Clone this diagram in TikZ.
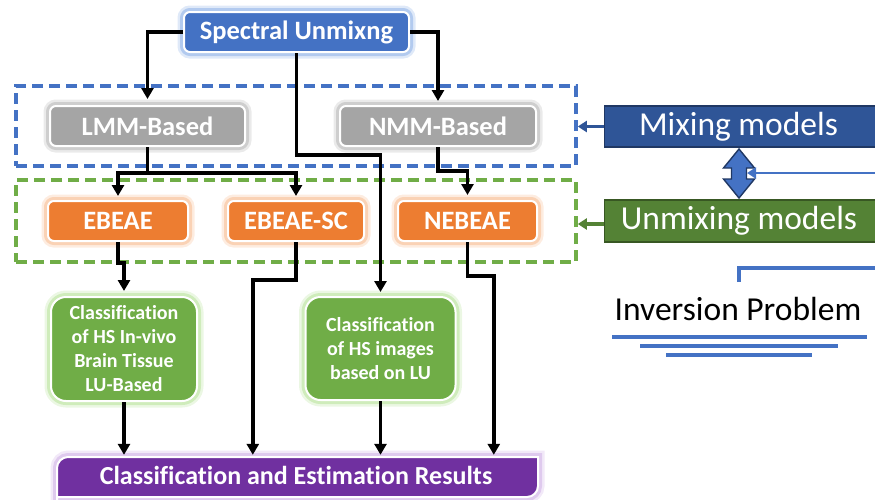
\documentclass[tikz,border=0pt]{standalone}
\usepackage{fontspec}
\setmainfont{Carlito}[Ligatures=NoCommon]
\usetikzlibrary{arrows.meta,calc}
\definecolor{specblue}{HTML}{4472C4}
\definecolor{specglow}{HTML}{A3C0EC}
\definecolor{greyfill}{HTML}{A5A5A5}
\definecolor{greyglow}{HTML}{C4C4C4}
\definecolor{orangefill}{HTML}{ED7D31}
\definecolor{orangeglow}{HTML}{F9C9A6}
\definecolor{greenfill}{HTML}{70AD47}
\definecolor{greenglow}{HTML}{C6E8AE}
\definecolor{purplefill}{HTML}{7030A0}
\definecolor{purpleglow}{HTML}{D9BFEB}
\definecolor{darkblue}{HTML}{2F5597}
\definecolor{darkblueedge}{HTML}{203864}
\definecolor{darkgreen}{HTML}{548235}
\definecolor{darkgreenedge}{HTML}{385723}
\begin{document}
\begin{tikzpicture}[x=1pt,y=-1pt,
  tag/.style={rounded corners=6pt, draw=white, line width=2pt, text=white,
    font=\bfseries\fontsize{26.5}{30}\selectfont, inner sep=0pt, minimum height=40pt},
  glow/.style={preaction={draw=#1, line width=13pt, draw opacity=0.35},
               preaction={draw=#1, line width=8pt, draw opacity=0.75}},
  specbox/.style={tag, fill=specblue, glow=specglow},
  greybox/.style={tag, fill=greyfill, glow=greyglow},
  orangebox/.style={tag, fill=orangefill, glow=orangeglow},
  taskbox/.style={tag, rounded corners=15pt, fill=greenfill, glow=greenglow,
    font=\bfseries\fontsize{20}{24}\selectfont, align=center},
  frame/.style={draw=#1, line width=3.6pt, dash pattern=on 11pt off 6pt, inner sep=0pt},
  modelbox/.style={draw=#1, line width=1.4pt, inner sep=0pt, anchor=west, minimum width=290pt},
  bigtext/.style={font=\fontsize{33.5}{38}\selectfont, inner sep=0pt},
  link/.style={draw=black, line width=3.6pt},
  flow/.style={link, -{Triangle[length=11pt,width=12pt]}},
  sidearrow/.style={draw=#1, line width=3.2pt, -{Triangle[length=9pt,width=11pt]}},
  thinblue/.style={draw=specblue, line width=3.2pt}
]
\useasboundingbox (0,0) rectangle (875,499);

% dashed groups
\node[frame=specblue, minimum width=560pt, minimum height=80pt] (bframe) at (296,126) {};
\node[frame=greenfill, minimum width=560pt, minimum height=82pt] (gframe) at (296,221) {};

% main boxes
\node[specbox, minimum width=225pt] (spec) at (296.5,32) {Spectral Unmixng};
\node[greybox, minimum width=195pt] (lmm) at (147.5,126) {LMM-Based};
\node[greybox, minimum width=196pt] (nmm) at (438,126) {NMM-Based};
\node[orangebox, minimum width=140pt] (ebeae) at (118,221) {EBEAE};
\node[orangebox, minimum width=136pt] (ebsc) at (296,221) {EBEAE-SC};
\node[orangebox, minimum width=139pt] (nebeae) at (467.5,221) {NEBEAE};
\node[taskbox, minimum width=146pt, minimum height=104pt] (cls1) at (124,349)
  {Classification\\of HS In-vivo\\Brain Tissue\\LU-Based};
\node[taskbox, minimum width=150pt, minimum height=103pt] (cls2) at (380.5,348.5)
  {Classification\\of HS images\\based on LU};

% results bar: rounded top-left and bottom-right corners
\node[inner sep=0pt, minimum width=481pt, minimum height=40pt] (res) at (297.5,477) {};
\path[draw=purpleglow, line width=13pt, draw opacity=0.35]
  (57,503) -- (57,468) .. controls (57,462) and (62,457) .. (68,457) -- (538,457)
  -- (538,486) .. controls (538,492) and (533,497) .. (527,497) -- (57,497);
\path[draw=purpleglow, line width=8pt, draw opacity=0.75]
  (57,503) -- (57,468) .. controls (57,462) and (62,457) .. (68,457) -- (538,457)
  -- (538,486) .. controls (538,492) and (533,497) .. (527,497) -- (57,497);
\path[fill=purplefill, draw=white, line width=2pt]
  (57,503) -- (57,468) .. controls (57,462) and (62,457) .. (68,457) -- (538,457)
  -- (538,486) .. controls (538,492) and (533,497) .. (527,497) -- (57,497);
\node[text=white, font=\bfseries\fontsize{26}{30}\selectfont, anchor=base] at (296,484)
  {Classification and Estimation Results};

% connectors
\draw[flow, shorten >=6pt] (spec.west) -| (lmm.north);
\draw[flow, shorten >=4pt] (spec.east) -| (nmm.north);
\draw[flow, shorten >=4pt] (spec.south) -- ++(0,102) -| (cls2.north);
\draw[link] (lmm.south) -- ++(0,26) coordinate (split);
\draw[flow, shorten >=4pt] (split) -| (ebeae.north);
\draw[flow, shorten >=4pt] (split) -| (ebsc.north);
\draw[flow, shorten >=5pt] (nmm.south) -- ++(0,24) -| (nebeae.north);
\draw[flow, shorten >=5pt] (ebeae.south) -- ++(0,21) -| (cls1.north);
\draw[flow, shorten >=2pt] (ebsc.south) -- ++(0,38) -| ([xshift=196pt]res.north west);
\draw[flow, shorten >=2pt] (nebeae.south) -- ++(0,34) -| ([xshift=437pt]res.north west);
\draw[flow, shorten >=2pt] (cls1.south) -- (cls1.south |- res.north);
\draw[flow, shorten >=2pt] (cls2.south) -- (cls2.south |- res.north);

% model legend on the right
\node[modelbox=darkblueedge, fill=darkblue, minimum height=41pt] (mix) at (604,126.5) {};
\node[bigtext, text=white] (mixtxt) at (738.5,126.5) {Mixing models};
\node[modelbox=darkgreenedge, fill=darkgreen, minimum height=42pt] (umix) at (604,221) {};
\node[bigtext, text=white] (umixtxt) at (739,221) {Unmixing models};
\coordinate (umixin) at ([yshift=-3pt]umix.west);
\draw[sidearrow=darkblue] (mix.west) -- (bframe.east |- mix.west);
\draw[sidearrow=darkgreen] (umixin) -- (gframe.east |- umixin);

% two-way arrow between the models
\filldraw[fill=specblue, draw=darkblueedge, line width=1.4pt]
  (739,149) -- (754.5,168) -- (746.5,168) -- (746.5,179) -- (754.5,179) -- (739,198)
  -- (723.5,179) -- (731.5,179) -- (731.5,168) -- (723.5,168) -- cycle;
\coordinate (dar) at (747,173);
\coordinate (feed) at (877,173);
\draw[sidearrow=specblue, line width=2.8pt] (feed) -- (dar);

% inversion problem
\node[bigtext, anchor=base] (inv) at (738,320) {Inversion Problem};
\coordinate (invtick) at (739,282);
\coordinate (invend) at (877,268);
\draw[thinblue] (invtick) |- (invend);
\draw[thinblue] (612,337) -- (867,337);
\draw[thinblue] (640,346) -- (838,346);
\draw[thinblue] (666,355) -- (812,355);
\end{tikzpicture}
\end{document}
